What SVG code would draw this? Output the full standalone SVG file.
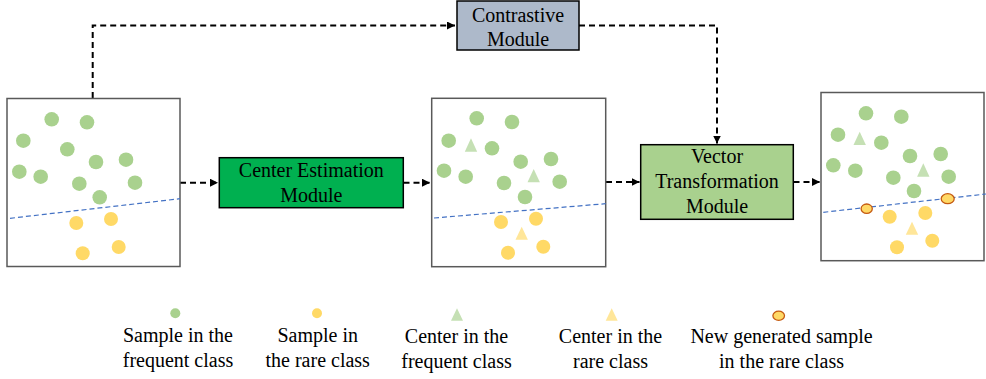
<svg xmlns="http://www.w3.org/2000/svg" width="986" height="379" viewBox="0 0 986 379">
<style>
text{font-family:'Liberation Serif',Tinos,'Times New Roman','DejaVu Serif',serif;font-size:20px;fill:#000;text-anchor:middle}
.panel{fill:#fff;stroke:#595959;stroke-width:1.5}
.box{stroke:#000;stroke-width:1.5}
.g{fill:#A9D18E}
.y{fill:#FFD966}
.tg{fill:#C5E0B4}
.ty{fill:#FFE699}
.nw{fill:#FFD966;stroke:#C55A11;stroke-width:1.3}
.sep{stroke:#4472C4;stroke-width:1.2;stroke-dasharray:5 3;fill:none}
.con{stroke:#000;stroke-width:2;stroke-dasharray:6 4;fill:none}
</style>
<defs>
<marker id="ah" markerUnits="userSpaceOnUse" markerWidth="9" markerHeight="8" refX="8" refY="4" orient="auto">
<path d="M0,0 L8,4 L0,8 z" fill="#000"/>
</marker>
</defs>

<g id="connectors">
<path class="con" d="M92.7,98 V25.5 H455" marker-end="url(#ah)"/>
<path class="con" d="M579,25.5 H717 V143.5" marker-end="url(#ah)"/>
<path class="con" d="M180,182.7 H218" marker-end="url(#ah)"/>
<path class="con" d="M403.5,182.7 H430" marker-end="url(#ah)"/>
<path class="con" d="M606,182 H639.5" marker-end="url(#ah)"/>
<path class="con" d="M793.5,182 H820" marker-end="url(#ah)"/>
</g>

<g id="panel1">
<rect class="panel" x="7" y="98.5" width="173" height="168"/>
<circle class="g" cx="51.7" cy="119.3" r="7.3"/>
<circle class="g" cx="87" cy="122.3" r="7.3"/>
<circle class="g" cx="23.3" cy="140.7" r="7.3"/>
<circle class="g" cx="67.3" cy="149.3" r="7.3"/>
<circle class="g" cx="96" cy="162" r="7.3"/>
<circle class="g" cx="126" cy="159.7" r="7.3"/>
<circle class="g" cx="19.3" cy="171.7" r="7.3"/>
<circle class="g" cx="40.7" cy="176.7" r="7.3"/>
<circle class="g" cx="79.3" cy="183.7" r="7.3"/>
<circle class="g" cx="135" cy="182.7" r="7.3"/>
<circle class="g" cx="99.7" cy="197.3" r="7.3"/>
<line class="sep" x1="10" y1="218.3" x2="180" y2="198.7"/>
<circle class="y" cx="76.3" cy="223" r="7"/>
<circle class="y" cx="111" cy="219" r="7"/>
<circle class="y" cx="82.7" cy="253.3" r="7"/>
<circle class="y" cx="118.7" cy="247" r="7"/>
</g>

<g id="center-estimation">
<rect class="box" x="219.3" y="157.7" width="184" height="50" fill="#00B050"/>
<text x="311.3" y="176.7">Center Estimation</text>
<text x="311.3" y="201.7">Module</text>
</g>

<g id="panel2">
<rect class="panel" x="431.7" y="98.3" width="174" height="168.4"/>
<circle class="g" cx="476.7" cy="118.3" r="7.3"/>
<circle class="g" cx="512" cy="122" r="7.3"/>
<circle class="g" cx="448.7" cy="140.7" r="7.3"/>
<circle class="g" cx="492" cy="148.3" r="7.3"/>
<circle class="g" cx="520.7" cy="161.7" r="7.3"/>
<circle class="g" cx="551" cy="159" r="7.3"/>
<circle class="g" cx="444" cy="170.7" r="7.3"/>
<circle class="g" cx="465.7" cy="176.7" r="7.3"/>
<circle class="g" cx="504" cy="183" r="7.3"/>
<circle class="g" cx="559.7" cy="181.7" r="7.3"/>
<circle class="g" cx="525" cy="197" r="7.3"/>
<polygon class="tg" points="471,138.3 477.2,151.7 464.8,151.7"/>
<polygon class="tg" points="533.7,169 539.9,182.3 527.5,182.3"/>
<line class="sep" x1="434" y1="218" x2="605.7" y2="203.7"/>
<circle class="y" cx="501" cy="222" r="7"/>
<circle class="y" cx="536" cy="218.7" r="7"/>
<circle class="y" cx="508" cy="252.7" r="7"/>
<circle class="y" cx="543.3" cy="246.7" r="7"/>
<polygon class="ty" points="521.7,226.7 527.9,239.7 515.5,239.7"/>
</g>

<g id="contrastive">
<rect class="box" x="457" y="1" width="122" height="49" fill="#ADB9CA"/>
<text x="518" y="22">Contrastive</text>
<text x="518" y="46">Module</text>
</g>

<g id="vector-transformation">
<rect class="box" x="640.7" y="144.7" width="152.6" height="74.6" fill="#A9D18E"/>
<text x="717" y="163.3">Vector</text>
<text x="717" y="188.3">Transformation</text>
<text x="717" y="212.7">Module</text>
</g>

<g id="panel3">
<rect class="panel" x="821" y="92.5" width="163" height="168.2"/>
<circle class="g" cx="866" cy="113.3" r="7.3"/>
<circle class="g" cx="901.3" cy="116.7" r="7.3"/>
<circle class="g" cx="838" cy="134.7" r="7.3"/>
<circle class="g" cx="881.3" cy="142.7" r="7.3"/>
<circle class="g" cx="910" cy="156" r="7.3"/>
<circle class="g" cx="940.7" cy="154" r="7.3"/>
<circle class="g" cx="833.3" cy="165.3" r="7.3"/>
<circle class="g" cx="855.3" cy="170.7" r="7.3"/>
<circle class="g" cx="893.3" cy="177.7" r="7.3"/>
<circle class="g" cx="948.7" cy="176.7" r="7.3"/>
<circle class="g" cx="914" cy="191" r="7.3"/>
<polygon class="tg" points="859.7,131.7 865.9,145 853.5,145"/>
<polygon class="tg" points="923.3,163.3 929.5,176.7 917.1,176.7"/>
<line class="sep" x1="823.3" y1="212.3" x2="986" y2="194"/>
<circle class="y" cx="889.7" cy="216.7" r="7"/>
<circle class="y" cx="925.3" cy="213" r="7"/>
<circle class="y" cx="897" cy="247.3" r="7"/>
<circle class="y" cx="932.3" cy="240.7" r="7"/>
<polygon class="ty" points="912,221.7 918.2,234.7 905.8,234.7"/>
<ellipse class="nw" cx="866.7" cy="208.7" rx="5.6" ry="4.7"/>
<ellipse class="nw" cx="947.7" cy="198.7" rx="6.5" ry="5"/>
</g>

<g id="legend-frequent-sample">
<circle class="g" cx="175.3" cy="313.3" r="5"/>
<text x="178" y="342">Sample in the</text>
<text x="178" y="367">frequent class</text>
</g>
<g id="legend-rare-sample">
<circle class="y" cx="317" cy="313.3" r="5"/>
<text x="317.7" y="342">Sample in</text>
<text x="317.7" y="367">the rare class</text>
</g>
<g id="legend-frequent-center">
<polygon class="tg" points="457,308.3 463,320.7 451,320.7"/>
<text x="456.5" y="343">Center in the</text>
<text x="456.5" y="368">frequent class</text>
</g>
<g id="legend-rare-center">
<polygon class="ty" points="611.7,308.3 617.7,320.7 605.7,320.7"/>
<text x="610.5" y="343">Center in the</text>
<text x="610.5" y="368">rare class</text>
</g>
<g id="legend-new-sample">
<ellipse class="nw" cx="778.7" cy="315.7" rx="5.8" ry="4.6"/>
<text x="781.5" y="343">New generated sample</text>
<text x="781.5" y="368">in the rare class</text>
</g>
</svg>
